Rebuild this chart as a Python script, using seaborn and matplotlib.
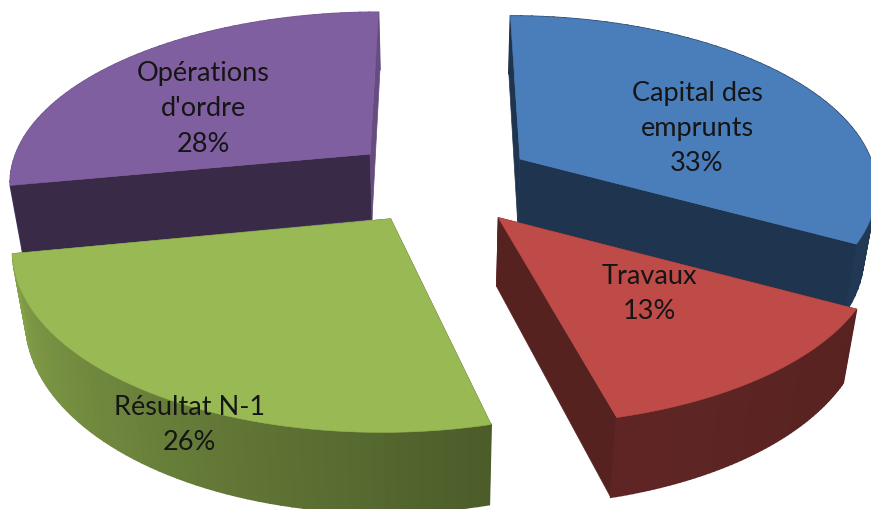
import matplotlib
matplotlib.use("Agg")
import matplotlib.pyplot as plt
import seaborn as sns
import numpy as np

labels = ["Capital des\nemprunts\n33%", "Travaux\n13%", "Résultat N-1\n26%", "Opérations\nd'ordre\n28%"]
shares = [33, 13, 26, 28]
colors = ["#4a7ebb", "#be4b48", "#98b954", "#7f5f9f"]
label_pos = [(697, 129), (649, 294), (189, 425), (203, 109)]
# small shift and stretch of each slice, the original is not quite symmetric
nudges = [(1, 0), (-2, 6), (-6, 5), (-9, 0)]
stretch_x = [1.0, 1.02, 1.012, 1.015]
stretch_y = [1.0, 0.98, 1.0, 1.0]
# darkness of the two flat cut faces of each slice
face_dark = [(0.42, 0.42), (0.45, 0.45), (0.45, 0.45), (0.45, 0.8)]

sns.set_theme(style="white")
plt.rcParams['font.family'] = ['Lato', 'DejaVu Sans']

fig, ax = plt.subplots(figsize=(8.71, 5.10), dpi=100)
fig.subplots_adjust(left=0, right=1, top=1, bottom=0)
ax.set_xlim(0, 871)
ax.set_ylim(510, 0)
ax.axis("off")

# perspective settings, fitted by eye
cx, cy = 445, 180
rx, ry = 357, 170
height = 70
explode_x, explode_y = 0.245, 0.235
persp = 0.15
persp_z = 0.03


def project(X, Y, Z=0.0, nudge=(0, 0)):
    w = 1 / (1 - persp * Y + persp_z * Z)
    return (cx + nudge[0] + rx * X * w,
            cy + nudge[1] + ry * Y * w + height * Z * w ** 1.5)


def shade(col, f):
    rgb = np.array(matplotlib.colors.to_rgb(col))
    return tuple(rgb * f)


def wall_factor(t):
    # wall gets lighter going round to the left
    return np.interp(t, [90, 120, 165, 260, 360], [0.42, 0.46, 0.5, 0.88, 0.9])


def draw_faces(i, t0, t1, ox, oy, nudge):
    for t, f in zip((t0, t1), face_dark[i]):
        r = np.radians(t)
        ex = ox + stretch_x[i] * np.sin(r)
        ey = oy - stretch_y[i] * np.cos(r)
        pts = [project(ox, oy, 0, nudge), project(ex, ey, 0, nudge),
               project(ex, ey, 1, nudge), project(ox, oy, 1, nudge)]
        ax.fill(*zip(*pts), color=shade(colors[i], f), lw=0.5)


def draw_wall(i, th, X, Y, nudge):
    # outer wall as thin strips
    for k in range(len(th) - 1):
        pts = [project(X[k], Y[k], 0, nudge), project(X[k + 1], Y[k + 1], 0, nudge),
               project(X[k + 1], Y[k + 1], 1, nudge), project(X[k], Y[k], 1, nudge)]
        ax.fill(*zip(*pts), color=shade(colors[i], wall_factor(th[k])), lw=1.2)


edges = np.cumsum([0] + shares) * 3.6

# back slices first
for i in [3, 0, 2, 1]:
    t0, t1 = edges[i], edges[i + 1]
    mid = np.radians((t0 + t1) / 2)
    ox, oy = explode_x * np.sin(mid), -explode_y * np.cos(mid)
    th = np.linspace(t0, t1, 60)
    rad = np.radians(th)
    X = ox + stretch_x[i] * np.sin(rad)
    Y = oy - stretch_y[i] * np.cos(rad)

    if i in (3, 0):
        draw_wall(i, th, X, Y, nudges[i])
        draw_faces(i, t0, t1, ox, oy, nudges[i])
    else:
        draw_faces(i, t0, t1, ox, oy, nudges[i])
        draw_wall(i, th, X, Y, nudges[i])

    # top
    top = [project(ox, oy, 0, nudges[i])] + [project(a, b, 0, nudges[i]) for a, b in zip(X, Y)]
    ax.fill(*zip(*top), color=colors[i], lw=0.4)

for text, (x, y) in zip(labels, label_pos):
    ax.text(x, y, text, ha="center", va="center", fontsize=19.5, color="#151515", linespacing=1.5)

fig.savefig("out.png", dpi=100)
